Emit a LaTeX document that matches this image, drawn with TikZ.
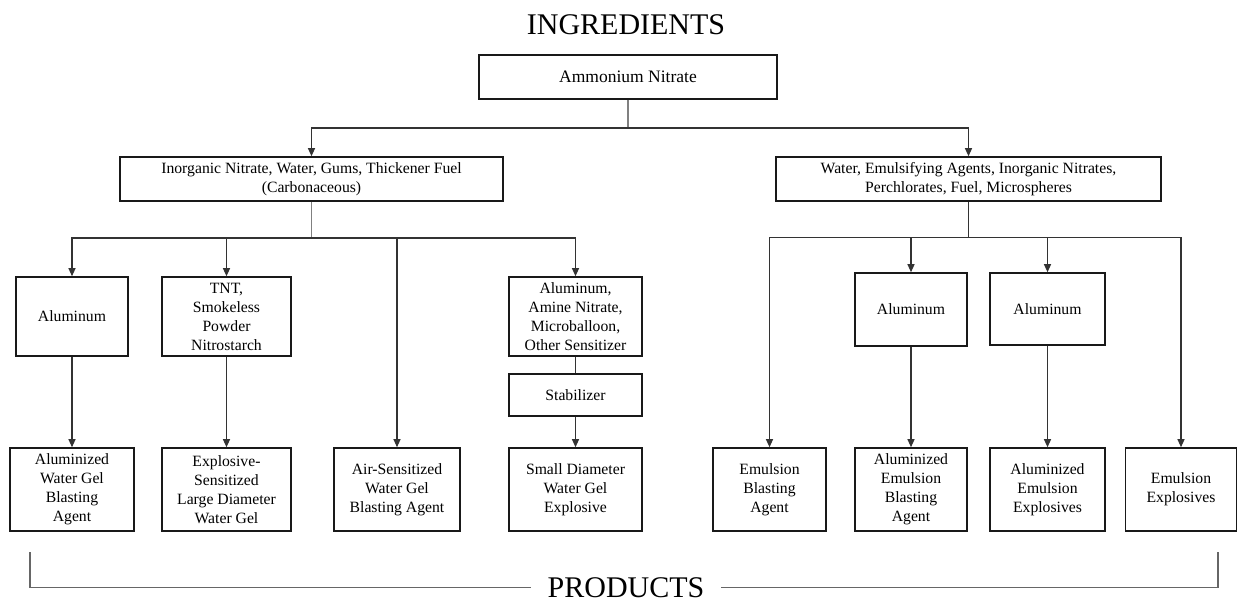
\documentclass[tikz,border=0pt]{standalone}
\usepackage{fontspec}
\setmainfont{Liberation Serif}
\usetikzlibrary{arrows.meta}
\begin{document}
\begin{tikzpicture}[x=1pt,y=-1pt,
  bx/.style={draw=black!90, line width=1.6pt, inner sep=0pt, align=center,
    font=\fontsize{15.7}{19}\selectfont},
  conn/.style={draw=black!80, line width=1.1pt},
  stem/.style={draw=black!50, line width=1.1pt},
  arr/.style={conn, -{Triangle[length=8pt,width=7pt]}},
  bracket/.style={draw=black!60, line width=1.1pt},
  ttl/.style={font=\fontsize{30}{34}\selectfont, inner sep=0pt}
]
\useasboundingbox (0,0) rectangle (1238,603);

\node[ttl] (ing) at (626,24.5) {INGREDIENTS};

\node[bx, minimum width=298, minimum height=44, font=\fontsize{17.5}{20}\selectfont] (am) at (628,77) {Ammonium Nitrate};

\node[bx, minimum width=383, minimum height=44] (L) at (311.5,179) {Inorganic Nitrate, Water, Gums, Thickener Fuel\\(Carbonaceous)};
\node[bx, minimum width=385, minimum height=44] (R) at (968.5,179) {Water, Emulsifying Agents, Inorganic Nitrates,\\Perchlorates, Fuel, Microspheres};

\node[bx, minimum width=112, minimum height=79] (a1) at (72,316.5) {Aluminum};
\node[bx, minimum width=129, minimum height=79] (a2) at (226.5,316.5) {TNT,\\Smokeless\\Powder\\Nitrostarch};
\node[bx, minimum width=133, minimum height=79] (a3) at (575.5,316.5) {Aluminum,\\Amine Nitrate,\\Microballoon,\\Other Sensitizer};
\node[bx, minimum width=133, minimum height=42] (st) at (575.5,395) {Stabilizer};

\node[bx, minimum width=112, minimum height=73] (r1) at (911,309.5) {Aluminum};
\node[bx, minimum width=115, minimum height=72] (r2) at (1047.5,309) {Aluminum};

\node[bx, minimum width=124, minimum height=83] (p1) at (72,489.5) {Aluminized\\Water Gel\\Blasting\\Agent};
\node[bx, minimum width=129, minimum height=83] (p2) at (226.5,489.5) {Explosive-\\Sensitized\\Large Diameter\\Water Gel};
\node[bx, minimum width=126, minimum height=83] (p3) at (397,489.5) {Air-Sensitized\\Water Gel\\Blasting Agent};
\node[bx, minimum width=133, minimum height=83] (p4) at (575.5,489.5) {Small Diameter\\Water Gel\\Explosive};
\node[bx, minimum width=113, minimum height=83] (p5) at (769.5,489.5) {Emulsion\\Blasting\\Agent};
\node[bx, minimum width=112, minimum height=83] (p6) at (911,489.5) {Aluminized\\Emulsion\\Blasting\\Agent};
\node[bx, minimum width=115, minimum height=83] (p7) at (1047.5,489.5) {Aluminized\\Emulsion\\Explosives};
\node[bx, minimum width=111, minimum height=83] (p8) at (1181,489.5) {Emulsion\\Explosives};

% top level
\coordinate (j1) at (628,128);
\draw[stem] (am.south) -- (j1);
\draw[arr] (j1) -| (L.north);
\draw[arr] (j1) -| (R.north);

% left branch
\coordinate (j2) at (311.5,238);
\draw[stem] (L.south) -- (j2);
\draw[arr] (j2) -| (a1.north);
\draw[arr] (j2) -| (a2.north);
\draw[arr] (j2) -| (p3.north);
\draw[arr] (j2) -| (a3.north);
\draw[arr] (a1.south) -- (p1.north);
\draw[arr] (a2.south) -- (p2.north);
\draw[conn] (a3.south) -- (st.north);
\draw[arr] (st.south) -- (p4.north);

% right branch
\coordinate (j3) at (968.5,237.5);
\draw[conn] (R.south) -- (j3);
\draw[arr] (j3) -| (p5.north);
\draw[arr] (j3) -| (r1.north);
\draw[arr] (j3) -| (r2.north);
\draw[arr] (j3) -| (p8.north);
\draw[arr] (r1.south) -- (p6.north);
\draw[arr] (r2.south) -- (p7.north);

% products bracket
\node[ttl, inner xsep=16pt] (prod) at (626,587.5) {PRODUCTS};
\coordinate (bl) at (30,552);
\coordinate (br) at (1218,552);
\draw[bracket] (bl) |- (prod.west);
\draw[bracket] (br) |- (prod.east);
\end{tikzpicture}
\end{document}
